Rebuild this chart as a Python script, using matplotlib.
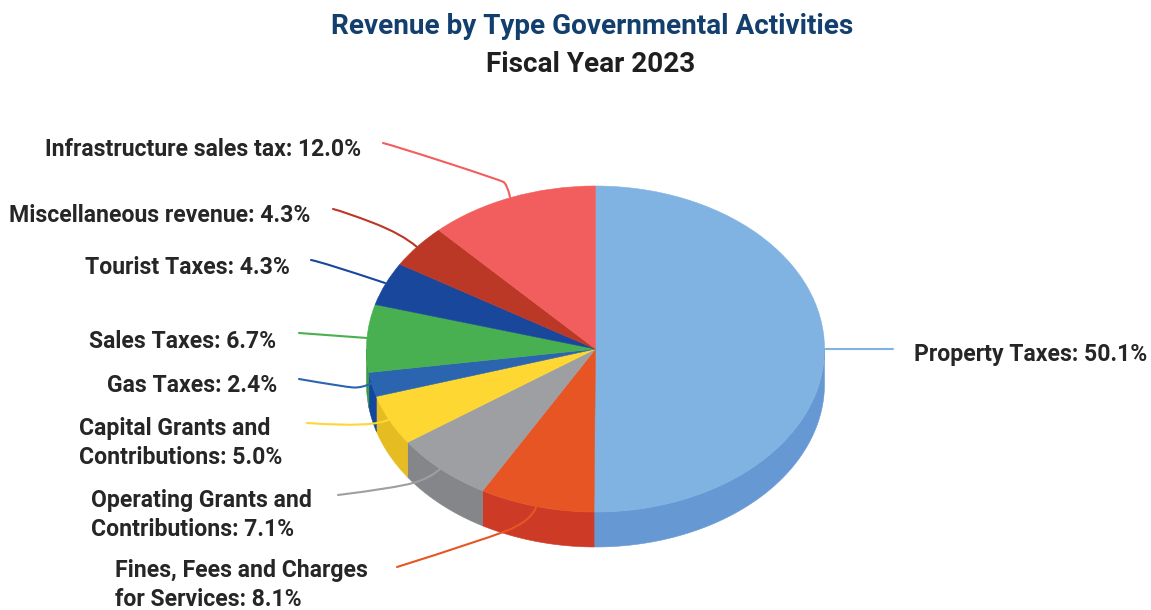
import numpy as np
import matplotlib
matplotlib.use("Agg")
import matplotlib.pyplot as plt
from matplotlib.patches import Polygon, PathPatch
from matplotlib.path import Path

W, H = 1151, 610

categories = ["Property Taxes", "Fines, Fees and Charges\nfor Services",
              "Operating Grants and\nContributions", "Capital Grants and\nContributions",
              "Gas Taxes", "Sales Taxes", "Tourist Taxes",
              "Miscellaneous revenue", "Infrastructure sales tax"]
shares = [50.1, 8.1, 7.1, 5.0, 2.4, 6.7, 4.3, 4.3, 12.0]
top_colors = ["#80B3E2", "#E85525", "#9E9FA2", "#FFD733", "#2B65B0",
              "#48B050", "#18479C", "#BC3826", "#F25E5E"]
wall_colors = ["#6699D3", "#CD3A26", "#85868A", "#E5BD22", "#12479E",
               "#3C9A45", "#123C85", "#A02F20", "#D04F4F"]
leader_colors = ["#80B3E2", "#E85525", "#9E9FA2", "#FFD733", "#2B65B0",
                 "#48B050", "#18479C", "#BC3826", "#F25E5E"]

# Ellipse geometry of the tilted pie, in pixels
CX, CY, RX, RY, DEPTH = 595.5, 349, 229, 163, 35

fig = plt.figure(figsize=(W / 100, H / 100), dpi=100)
plt.rcParams["font.family"] = ["Roboto", "DejaVu Sans"]

# Overlay in pixel coordinates for text and leaders
px = fig.add_axes([0, 0, 1, 1], zorder=3)
px.set_xlim(0, W)
px.set_ylim(H, 0)
px.axis("off")
px.patch.set_alpha(0)

# Pie axes: one data unit equals the ellipse radius on each axis
ax = fig.add_axes([0, 0, 1, 1], zorder=1)
wedges, _ = ax.pie(shares, colors=top_colors, startangle=90, counterclock=False,
                   radius=1, center=(0, 0), normalize=True, wedgeprops={"linewidth": 0})
for w, c in zip(wedges, top_colors):
    w.set_zorder(2)
    w.set_edgecolor(c)
    w.set_linewidth(0.4)
ax.set_aspect("auto")
ax.set_xlim(-CX / RX, (W - CX) / RX)
ax.set_ylim(-(H - CY) / RY, CY / RY)
ax.axis("off")

# Side walls: the part of each slice's rim that faces the viewer
edges = 360 * np.cumsum([0] + shares) / sum(shares)
depth_units = DEPTH / RY
for a0, a1, c in zip(edges[:-1], edges[1:], wall_colors):
    lo, hi = max(a0, 90), min(a1, 270)
    if hi <= lo:
        continue
    t = np.radians(np.linspace(lo, hi, 80))
    x, y = np.sin(t), np.cos(t)
    pts = np.r_[np.c_[x, y], np.c_[x[::-1], y[::-1] - depth_units]]
    ax.add_patch(Polygon(pts, closed=True, facecolor=c, edgecolor=c, linewidth=0.4, zorder=1))

# Leader lines from each slice out to its label, rounded through control points
leaders = [
    [(824, 349), (893, 349)],
    [(397, 567), (480, 541), (532, 521), (537, 505)],
    [(338, 495), (395, 488), (431, 478), (441, 468)],
    [(307, 423), (375, 428), (390, 419)],
    [(299, 379), (345, 387), (362, 388), (372, 383)],
    [(299, 333), (367, 338)],
    [(311, 260), (322, 262), (385, 283)],
    [(333, 209), (345, 212), (402, 234), (417, 247)],
    [(383, 143), (395, 146), (500, 180), (507, 184), (510, 197)],
]


def rounded_path(points):
    pts = np.asarray(points, dtype=float)
    if len(pts) == 2:
        return Path(pts)
    verts, codes = [pts[0]], [Path.MOVETO]
    for i in range(1, len(pts) - 1):
        end = pts[i + 1] if i == len(pts) - 2 else (pts[i] + pts[i + 1]) / 2
        verts += [pts[i], end]
        codes += [Path.CURVE3, Path.CURVE3]
    return Path(verts, codes)


for pts, c in zip(leaders, leader_colors):
    px.add_patch(PathPatch(rounded_path(pts), facecolor="none", edgecolor=c,
                           linewidth=1.5, capstyle="round"))

# Value labels
label_pos = [(914, 355), (115, 585), (91, 515), (79, 443), (107, 385), (89, 341),
             (85, 267), (9, 215), (45, 149)]
for name, share, (x, y) in zip(categories, shares, label_pos):
    px.text(x, y, f"{name}: {share:.1f}%", ha="left", va="center", fontsize=16.6,
            fontweight="bold", color="#262626", linespacing=1.33)

px.text(592, 26, "Revenue by Type Governmental Activities", ha="center", va="center",
        fontsize=20.1, fontweight="bold", color="#123F6D")
px.text(591, 65, "Fiscal Year 2023", ha="center", va="center",
        fontsize=20.1, fontweight="bold", color="#1F1F1F")

fig.savefig("out.png", dpi=100, facecolor="white")
